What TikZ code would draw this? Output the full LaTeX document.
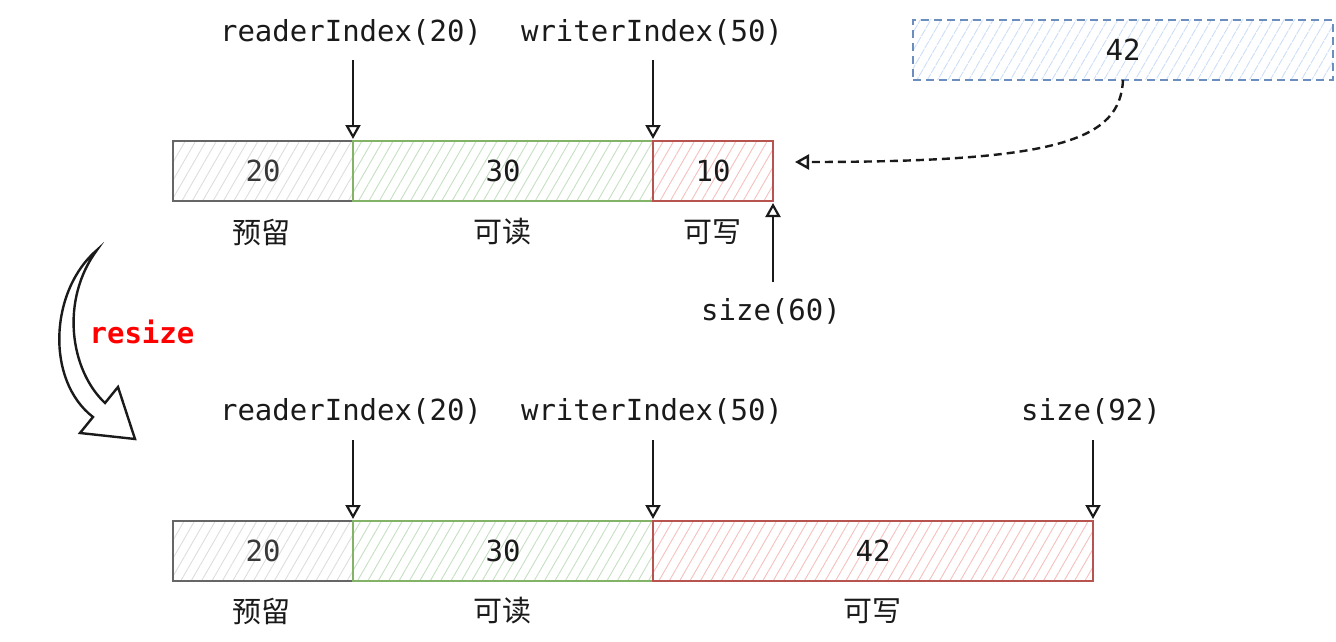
\documentclass[tikz,border=0pt]{standalone}
\usepackage{fontspec}
\setmonofont{DejaVu Sans Mono}
\newfontfamily\cjk{Noto Sans CJK SC}
\usetikzlibrary{patterns.meta,arrows.meta}
\definecolor{gstroke}{HTML}{666666}
\definecolor{ghatch}{HTML}{DDDDDD}
\definecolor{grstroke}{HTML}{82B366}
\definecolor{grhatch}{HTML}{C4E0C2}
\definecolor{rstroke}{HTML}{B85450}
\definecolor{rhatch}{HTML}{F5C0BE}
\definecolor{bstroke}{HTML}{6C8EBF}
\definecolor{bhatch}{HTML}{CCDEF7}
\definecolor{ink}{HTML}{1A1A1A}
\begin{document}
\begin{tikzpicture}[x=1pt,y=-1pt,
  mono/.style={font=\ttfamily\fontsize{29pt}{34pt}\selectfont, text=ink, inner sep=0pt},
  zh/.style={font=\cjk\fontsize{29pt}{34pt}\selectfont, text=ink, inner sep=0pt},
  cell/.style={draw, line width=2.2pt, minimum height=60pt, inner sep=0pt, outer sep=0pt,
    font=\ttfamily\fontsize{29pt}{34pt}\selectfont, text=ink},
  graycell/.style={cell, draw=gstroke, text=gstroke!55!black, pattern={Lines[angle=60,distance=9pt,line width=0.9pt]}, pattern color=ghatch},
  greencell/.style={cell, draw=grstroke, pattern={Lines[angle=60,distance=9pt,line width=0.9pt]}, pattern color=grhatch},
  redcell/.style={cell, draw=rstroke, pattern={Lines[angle=60,distance=9pt,line width=0.9pt]}, pattern color=rhatch},
  bluecell/.style={cell, draw=bstroke, dash pattern=on 8pt off 5pt, pattern={Lines[angle=60,distance=9pt,line width=0.9pt]}, pattern color=bhatch},
  ptr/.style={draw=ink, line width=2.2pt, -{Triangle[open,length=14pt,width=15pt]}, shorten >=2pt},
]
\useasboundingbox (0,0) rectangle (1336,642);

% ---------- top row ----------
\node[graycell, minimum width=180pt] (a1) at (263,171) {20};
\node[greencell, minimum width=300pt] (a2) at (503,171) {30};
\node[redcell, minimum width=120pt] (a3) at (713,171) {10};

\node[zh] (la1) at (261,232) {预留};
\node[zh] (la2) at (502,232) {可读};
\node[zh] (la3) at (712,232) {可写};

\node[mono] (ra) at (351,32) {readerIndex(20)};
\node[mono] (wa) at (652,32) {writerIndex(50)};
\node[mono] (sa) at (771,311) {size(60)};

\coordinate (ras) at (353,60);
\coordinate (was) at (653,60);
\coordinate (sas) at (773,282);
\draw[ptr] (ras) -- (a1.north east);
\draw[ptr] (was) -- (a2.north east);
\draw[ptr] (sas) -- (a3.south east);

% ---------- new data ----------
\node[bluecell, minimum width=420pt] (nb) at (1123,50) {42};
\coordinate (tgt) at (795,162);
\draw[draw=ink, line width=2.4pt, dash pattern=on 8pt off 5pt, -{Triangle[open,length=14pt,width=15pt]}]
  (nb.south) .. controls (1120,140) and (1060,162) .. (tgt);

% ---------- resize arrow ----------
\draw[ink, line width=2.4pt, line join=miter, fill=white]
  (97,250) .. controls (50,290) and (45,380) .. (93,417)
  -- (80,433) -- (135,439) -- (118,387) -- (105,403)
  .. controls (70,370) and (60,300) .. (97,250) -- cycle;
\node[font=\ttfamily\bfseries\fontsize{29pt}{34pt}\selectfont, text=red, inner sep=0pt] (rz) at (142,332) {resize};

% ---------- bottom row ----------
\node[graycell, minimum width=180pt] (b1) at (263,551) {20};
\node[greencell, minimum width=300pt] (b2) at (503,551) {30};
\node[redcell, minimum width=440pt] (b3) at (873,551) {42};

\node[zh] (lb1) at (261,611) {预留};
\node[zh] (lb2) at (502,611) {可读};
\node[zh] (lb3) at (872,611) {可写};

\node[mono] (rb) at (351,411) {readerIndex(20)};
\node[mono] (wb) at (652,411) {writerIndex(50)};
\node[mono] (sb) at (1091,411) {size(92)};

\coordinate (rbs) at (353,440);
\coordinate (wbs) at (653,440);
\coordinate (sbs) at (1093,440);
\draw[ptr] (rbs) -- (b1.north east);
\draw[ptr] (wbs) -- (b2.north east);
\draw[ptr] (sbs) -- (b3.north east);
\end{tikzpicture}
\end{document}
